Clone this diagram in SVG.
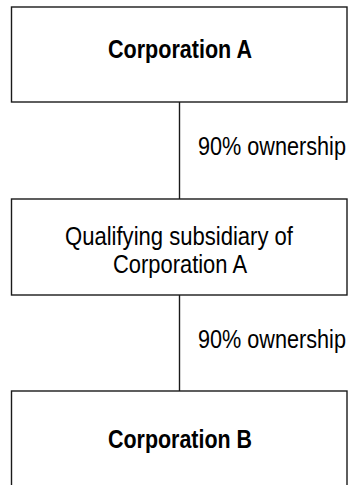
<svg xmlns="http://www.w3.org/2000/svg" width="351" height="485" viewBox="0 0 351 485">
<style>
.box{fill:#fff;stroke:#1a1a1a;stroke-width:1.4}
.conn{stroke:#1a1a1a;stroke-width:1.4;fill:none}
text{font-family:"Liberation Sans",Arial,sans-serif;font-size:25px;fill:#000}
.b{font-weight:bold}
.c{text-anchor:middle}
</style>
<rect width="351" height="485" fill="#fff"/>
<g id="connectors">
<line class="conn" x1="179.5" y1="102" x2="179.5" y2="199"/>
<line class="conn" x1="179.5" y1="295" x2="179.5" y2="391"/>
</g>
<g id="corpA">
<rect class="box" x="11.5" y="7" width="335.5" height="95"/>
<text class="b c" x="180" y="58" textLength="144" lengthAdjust="spacingAndGlyphs">Corporation A</text>
</g>
<g id="label1">
<text transform="translate(198,155) scale(0.866,1)" x="0" y="0">90% ownership</text>
</g>
<g id="subsidiary">
<rect class="box" x="11.5" y="199" width="335.5" height="96"/>
<text class="c" x="179" y="245" textLength="228" lengthAdjust="spacingAndGlyphs">Qualifying subsidiary of</text>
<text class="c" x="180" y="273" textLength="134" lengthAdjust="spacingAndGlyphs">Corporation A</text>
</g>
<g id="label2">
<text transform="translate(198,348) scale(0.866,1)" x="0" y="0">90% ownership</text>
</g>
<g id="corpB">
<rect class="box" x="11.5" y="391" width="335.5" height="110"/>
<text class="b c" x="180" y="448" textLength="144" lengthAdjust="spacingAndGlyphs">Corporation B</text>
</g>
</svg>
